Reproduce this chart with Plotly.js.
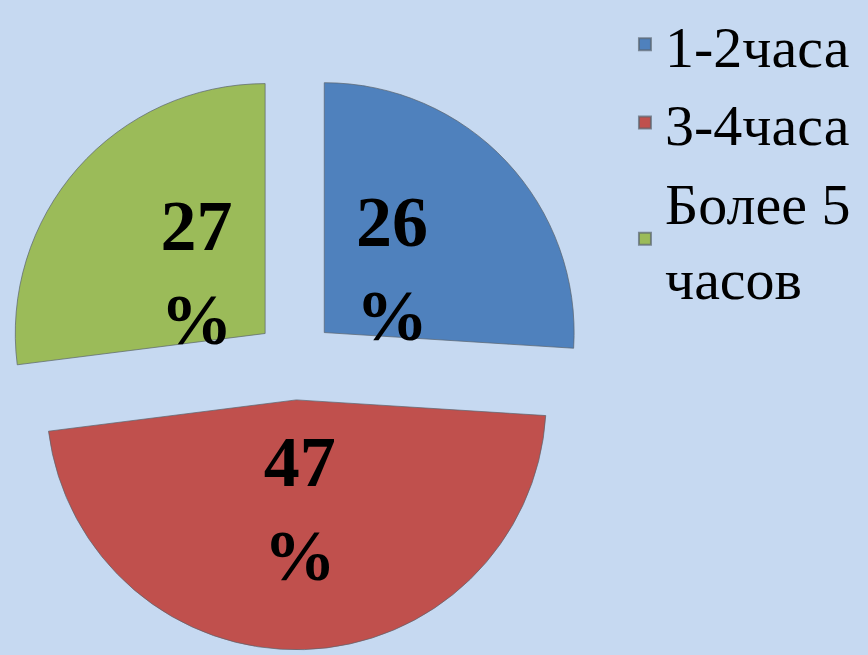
<!DOCTYPE html>
<html>
<head>
<meta charset="utf-8">
<script src="https://cdn.plot.ly/plotly-3.0.1.min.js"></script>
<style>html,body{margin:0;padding:0;background:#c6d9f1;}#chart{width:868px;height:655px;}</style>
</head>
<body>
<div id="chart"></div>
<script>
const categories = ["1-2часа", "3-4часа", "Более 5<br>часов"];
const values = [26, 47, 27];
const labelsText = ["26<br>%", "47<br>%", "27<br>%"];
const colors = ["#4f81bd", "#c0504d", "#9bbb59"];
const serif = "Liberation Serif";

// visible exploded slices
const slices = {
  type: "pie",
  labels: categories,
  values: values,
  textinfo: "none",
  sort: false,
  direction: "clockwise",
  rotation: 0,
  pull: [0.16, 0.16, 0.16],
  marker: {colors: colors, line: {color: "rgba(90,100,110,0.7)", width: 1}},
  domain: {x: [0.006, 0.674], y: [0.008, 0.893]},
  hoverinfo: "none"
};

// same data, transparent, only carries the percentage labels (closer to the centre)
const labelsLayer = {
  type: "pie",
  labels: categories,
  values: values,
  text: labelsText,
  textinfo: "text",
  textposition: "inside",
  insidetextorientation: "horizontal",
  sort: false,
  direction: "clockwise",
  rotation: 0,
  pull: [0, 0.147, 0],
  showlegend: false,
  marker: {colors: ["rgba(0,0,0,0)", "rgba(0,0,0,0)", "rgba(0,0,0,0)"], line: {width: 0}},
  textfont: {family: serif, size: 72, color: "#000", weight: "bold"},
  domain: {x: [0.0361, 0.6439], y: [0.0479, 0.8535]},
  hoverinfo: "none"
};

const layout = {
  width: 868, height: 655,
  margin: {l: 0, r: 0, t: 0, b: 0, autoexpand: false},
  paper_bgcolor: "#c6d9f1",
  plot_bgcolor: "#c6d9f1",
  font: {family: serif, color: "#000"},
  showlegend: true,
  legend: {
    x: 0.72, y: 1.0, xanchor: "left", yanchor: "top",
    bgcolor: "rgba(0,0,0,0)",
    font: {family: serif, size: 58, color: "#000"},
    itemsizing: "constant",
    tracegroupgap: 0
  }
};

Plotly.newPlot("chart", [slices, labelsLayer], layout, {displayModeBar: false, staticPlot: true});
</script>
</body>
</html>
